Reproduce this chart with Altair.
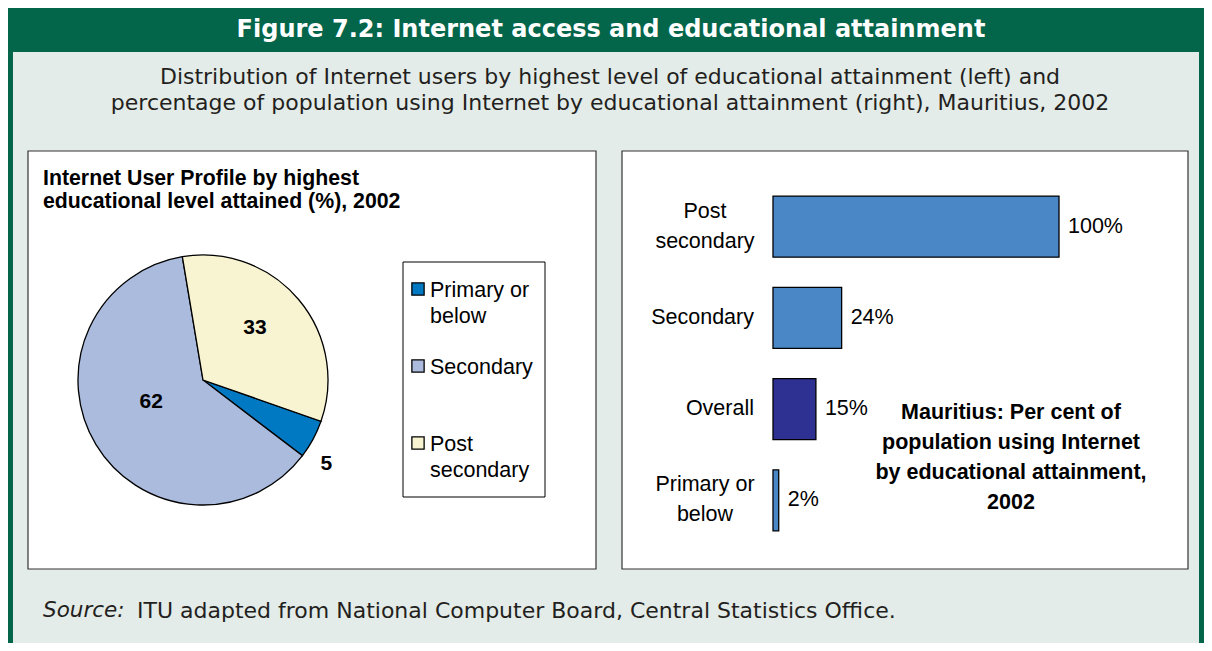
import math
import altair as alt
import pandas as pd

# ---------------- data ----------------
pie_categories = ["Primary or below", "Secondary", "Post secondary"]
pie_values = [5, 62, 33]
pie_draw_order = [2, 3, 1]          # clockwise from the start angle
pie_legend_text = ["Primary or\nbelow", "Secondary", "Post\nsecondary"]
pie_colors = ["#0079C2", "#ABBBDD", "#F8F4D2"]

bar_categories = ["Post secondary", "Secondary", "Overall", "Primary or below"]
bar_values = [100, 24, 15, 2]
bar_tick_labels = ["Post\nsecondary", "Secondary", "Overall", "Primary or\nbelow"]
bar_value_labels = ["100%", "24%", "15%", "2%"]
bar_colors = ["#4A87C6", "#4A87C6", "#2E3192", "#4A87C6"]

HEADER = "Figure 7.2: Internet access and educational attainment"
SUBTITLE = ("Distribution of Internet users by highest level of educational attainment (left) and\n"
            "percentage of population using Internet by educational attainment (right), Mauritius, 2002")
PIE_TITLE = "Internet User Profile by highest\neducational level attained (%), 2002"
BAR_NOTE = "Mauritius: Per cent of\npopulation using Internet\nby educational attainment,\n2002"
SOURCE_ITALIC = "Source:"
SOURCE_TEXT = "ITU adapted from National Computer Board, Central Statistics Office."

# ---------------- styles ----------------
GREEN = "#03654A"
PANEL_BG = "#E3ECE8"
INK = "#231F20"
VERDANA = "DejaVu Sans"
ARIAL = "Liberation Sans"
FS = 21.5
W, H = 1196, 635

pie_df = pd.DataFrame({"cat": pie_categories, "value": pie_values,
                       "ord": pie_draw_order, "legend": pie_legend_text})
bar_df = pd.DataFrame({"cat": bar_categories, "value": bar_values,
                       "tick": bar_tick_labels, "vlabel": bar_value_labels})
one = pd.DataFrame({"a": [0]})
deco = alt.Chart(one)


def box(x0, x1, y0, y1, **style):
    return deco.mark_rect(**style).encode(
        x=alt.value(x0), x2=alt.value(x1), y=alt.value(y0), y2=alt.value(y1))


def label(x, y, text, **style):
    return deco.mark_text(**style).encode(x=alt.value(x), y=alt.value(y), text=alt.value(text))


# ---------------- frame ----------------
frame = [
    box(0, W, 0, 44, fill=GREEN),
    box(0, 5, 0, H, fill=GREEN),
    box(W - 5, W, 0, H, fill=GREEN),
    box(20, 588, 143, 561, fill="white", stroke="#333333", strokeWidth=1.2),
    box(614, 1180, 143, 561, fill="white", stroke="#333333", strokeWidth=1.2),
    label(603, 29, HEADER, font=VERDANA, fontWeight="bold", fontSize=24, color="white",
          align="center", baseline="alphabetic"),
    label(602, 76, SUBTITLE, font=VERDANA, fontSize=22, color=INK, align="center",
          baseline="alphabetic", lineBreak="\n", lineHeight=26),
    label(35, 603, SOURCE_ITALIC, font=VERDANA, fontSize=21.5, fontStyle="italic",
          color=INK, align="left", baseline="middle"),
    label(129, 603, SOURCE_TEXT, font=VERDANA, fontSize=22, color=INK,
          align="left", baseline="middle"),
]

# ---------------- pie panel ----------------
a0 = 2 * math.pi - 0.166
theta_scale = alt.Scale(range=[a0, a0 + 2 * math.pi])
color_enc = alt.Color("cat:N", scale=alt.Scale(domain=pie_categories, range=pie_colors),
                      legend=None)
CX, CY = 195, 372

pie_base = alt.Chart(pie_df)
arcs = pie_base.mark_arc(outerRadius=125, stroke="black", strokeWidth=1.3).encode(
    theta=alt.Theta("value:Q", stack=True, scale=theta_scale),
    order=alt.Order("ord:Q"), color=color_enc,
    x=alt.value(CX), y=alt.value(CY))

label_base = pie_base.transform_window(
    cum="sum(value)", sort=[alt.SortField("ord", order="ascending")]
).transform_calculate(mid="datum.cum - datum.value / 2")
label_style = dict(font=ARIAL, fontWeight="bold", fontSize=21, color="black",
                   align="center", baseline="middle")
labels_in = label_base.transform_filter("datum.value >= 10").mark_text(
    radius=64, dy=-11, dx=3, **label_style).encode(
    theta=alt.Theta("mid:Q", stack=None, scale=theta_scale),
    text=alt.Text("value:Q"), x=alt.value(CX), y=alt.value(CY))
labels_out = label_base.transform_filter("datum.value < 10").mark_text(
    radius=140, dy=18, **label_style).encode(
    theta=alt.Theta("mid:Q", stack=None, scale=theta_scale),
    text=alt.Text("value:Q"), x=alt.value(CX), y=alt.value(CY))

pie_title = label(35, 177, PIE_TITLE, font=ARIAL, fontWeight="bold", fontSize=21.3,
                  color="black", align="left", baseline="alphabetic", lineBreak="\n",
                  lineHeight=23)

legend_box = box(395, 537, 254, 489, fill="white", stroke="black", strokeWidth=1)
legend_y = alt.Y("cat:N", scale=alt.Scale(domain=pie_categories, range=[281, 435], padding=0),
                 axis=None)
legend_sym = pie_base.mark_square(size=150, stroke="black", strokeWidth=1.3, opacity=1).encode(
    x=alt.value(410), y=legend_y, color=color_enc)
legend_txt = pie_base.mark_text(
    font=ARIAL, fontSize=FS, color="black", align="left", baseline="alphabetic",
    dy=7.5, lineBreak="\n", lineHeight=26
).encode(x=alt.value(422), y=legend_y, text="legend:N")

pie_layers = [arcs, labels_in, labels_out, pie_title, legend_box, legend_sym, legend_txt]

# ---------------- bar panel ----------------
bar_base = alt.Chart(bar_df)
x_enc = alt.X("value:Q", scale=alt.Scale(domain=[0, 100], range=[765, 1051]), axis=None)
y_enc = alt.Y("cat:N", sort=bar_categories,
              scale=alt.Scale(domain=bar_categories, range=[173, 538],
                              paddingInner=0.33, paddingOuter=0.165),
              axis=None)
bars = bar_base.mark_bar(stroke="black", strokeWidth=1.3).encode(
    x=x_enc, y=y_enc,
    color=alt.Color("cat:N", scale=alt.Scale(domain=bar_categories, range=bar_colors),
                    legend=None))
bar_vals = bar_base.mark_text(font=ARIAL, fontSize=FS, color="black", align="left",
                              baseline="middle", dx=9).encode(
    x=x_enc, y=y_enc, text="vlabel:N")
tick_style = dict(font=ARIAL, fontSize=FS, color="black",
                  baseline="middle", lineBreak="\n", lineHeight=30)
ticks_single = bar_base.transform_filter(
    "indexof(datum.tick, '\\n') < 0"
).mark_text(align="right", **tick_style).encode(x=alt.value(746), y=y_enc, text="tick:N")
ticks_multi = bar_base.transform_filter(
    "indexof(datum.tick, '\\n') >= 0"
).mark_text(align="center", dy=-15, **tick_style).encode(
    x=alt.value(697), y=y_enc, text="tick:N")
bar_note = label(1003, 411, BAR_NOTE, font=ARIAL, fontWeight="bold", fontSize=FS,
                 color="black", align="center", baseline="alphabetic", lineBreak="\n",
                 lineHeight=30)

bar_layers = [bars, bar_vals, ticks_single, ticks_multi, bar_note]

chart = alt.layer(*frame, *pie_layers, *bar_layers).resolve_scale(
    x="independent", y="independent", color="independent"
).properties(
    width=W, height=H, padding=0, background=PANEL_BG
).configure_view(stroke="transparent")

chart.save("out.html", embed_options={"renderer": "svg", "actions": False})
